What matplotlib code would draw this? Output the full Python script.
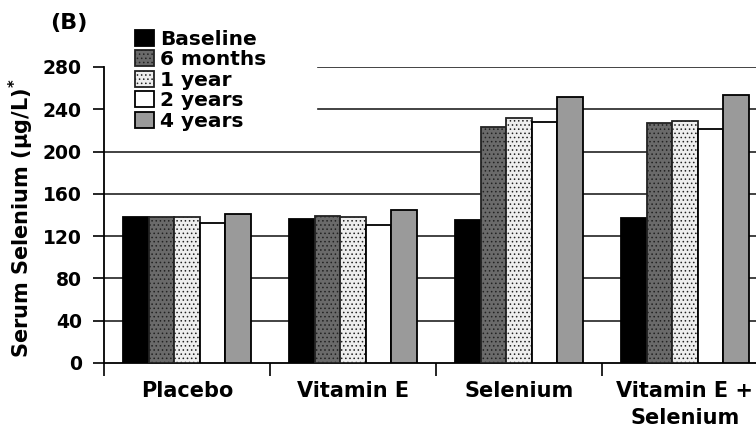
import numpy as np
import matplotlib
matplotlib.use("Agg")
import matplotlib.pyplot as plt

groups = ["Placebo", "Vitamin E", "Selenium", "Vitamin E +\nSelenium"]
series = ["Baseline", "6 months", "1 year", "2 years", "4 years"]

baseline = [138, 136.5, 135, 137.5]
months6 = [138, 139, 223, 227]
year1 = [138, 138, 232, 229]
year2 = [132.5, 130.5, 228, 221.5]
year4 = [141, 144.5, 251.5, 253.5]

yticks = [0, 40, 80, 120, 160, 200, 240, 280]

plt.rcParams["font.family"] = ["DejaVu Sans"]
plt.rcParams["font.weight"] = "bold"
plt.rcParams["mathtext.default"] = "regular"
plt.rcParams["hatch.linewidth"] = 0.6

fig = plt.figure(figsize=(7.56, 4.26), dpi=100)
ax = fig.add_axes([104 / 756, 63 / 426, 1 - 104 / 756, 296 / 426])

styles = [
    dict(color="black", hatch=None),
    dict(color="#6a6a6a", hatch="...."),
    dict(color="#eeeeee", hatch="...."),
    dict(color="white", hatch=None),
    dict(color="#9a9a9a", hatch=None),
]
values = [baseline, months6, year1, year2, year4]

x = np.arange(len(groups))
w = 0.154
for i, (vals, st) in enumerate(zip(values, styles)):
    pos = x + (i - 2) * w
    bars = ax.bar(pos, vals, width=w, color=st["color"], edgecolor="black",
                  linewidth=1.3, zorder=3, label=series[i])
    if st["hatch"]:
        for b in bars:
            b.set_hatch(st["hatch"])
            b.set_edgecolor("#222222")

# gridlines (upper ones start right of the legend)
for y in yticks[1:]:
    xmin = 0.328 if y >= 240 else 0
    ax.axhline(y, xmin=xmin, color="#222222", lw=1.2, zorder=1)

ax.set_ylim(0, 280)
ax.set_xlim(-0.5, 3.428)
ax.set_yticks(yticks)
ax.tick_params(axis="y", length=8, width=1.2, labelsize=13.5, pad=8)
ax.set_xticks([-0.5, 0.5, 1.5, 2.5])
ax.set_xticklabels([])
ax.tick_params(axis="x", which="major", length=9, width=1.2, direction="out")
ax.set_xticks(x, minor=True)
ax.set_xticklabels(groups, minor=True, fontsize=15, fontweight="bold", linespacing=1.45)
ax.tick_params(axis="x", which="minor", length=0, pad=13)

for s in ["top", "right"]:
    ax.spines[s].set_visible(False)
for s in ["left", "bottom"]:
    ax.spines[s].set_linewidth(1.3)

ax.set_ylabel("Serum Selenium (μg/L)$^{*}$", fontsize=15, fontweight="bold")
ax.yaxis.set_label_coords(-0.105, 0.49)

leg = fig.legend(loc="upper left", bbox_to_anchor=(135 / 756, 1 - 30 / 426),
                 frameon=False, fontsize=14.5, handlelength=0.95, handleheight=0.85,
                 handletextpad=0.3, labelspacing=0.07, borderpad=0, borderaxespad=0)

fig.text(50 / 756, 1 - 13 / 426, "(B)", fontsize=16, fontweight="bold", va="top")

fig.savefig("out.png", dpi=100)
